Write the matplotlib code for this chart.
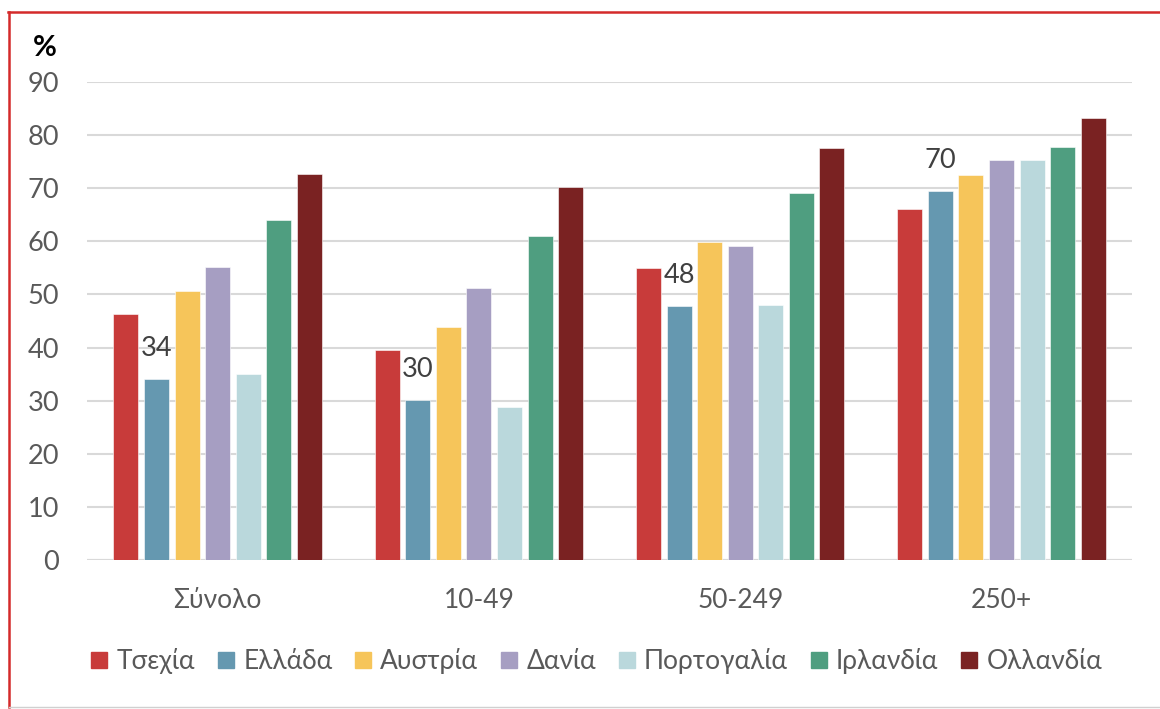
import matplotlib
matplotlib.use("Agg")
import matplotlib.pyplot as plt
import numpy as np
from matplotlib.lines import Line2D

plt.rcParams['font.family'] = ['Lato', 'Open Sans', 'DejaVu Sans']

# δεδομένα
categories = ["Σύνολο", "10-49", "50-249", "250+"]
countries = ["Τσεχία", "Ελλάδα", "Αυστρία", "Δανία", "Πορτογαλία", "Ιρλανδία", "Ολλανδία"]
czech = [46.3, 39.6, 55.0, 66.1]
greece = [34.0, 30.1, 47.9, 69.5]
austria = [50.6, 43.8, 59.8, 72.5]
denmark = [55.1, 51.2, 59.1, 75.3]
portugal = [35.0, 28.8, 48.0, 75.3]
ireland = [64.1, 61.0, 69.1, 77.7]
netherlands = [72.7, 70.3, 77.6, 83.3]
greece_labels = ["34", "30", "48", "70"]

series = [czech, greece, austria, denmark, portugal, ireland, netherlands]
colors = ["#C83B3A", "#6598B0", "#F6C55A", "#A69EC2", "#BAD8DC", "#4F9E80", "#7A2222"]

fig = plt.figure(figsize=(11.6, 7.09), dpi=100)
ax = fig.add_axes([0.075, 0.2102, 0.901, 0.6741])

x = np.arange(len(categories))
pitch = 0.117
width = 0.096
for i, (vals, c) in enumerate(zip(series, colors)):
    pos = x + (i - 3) * pitch
    ax.bar(pos, vals, width, color=c, edgecolor="white", linewidth=0.4, zorder=3)
    if i == 1:
        for p, v, lab in zip(pos, vals, greece_labels):
            ax.annotate(lab, (p, v), xytext=(0, 13), textcoords="offset points",
                        ha="center", va="bottom", fontsize=19.5, color="#404040")

ax.set_ylim(0, 90)
ax.set_xlim(-0.5, 3.5)
ax.set_yticks(range(0, 91, 10))
ax.yaxis.grid(True, color="#D9D9D9", linewidth=1.5, zorder=0)
ax.set_axisbelow(True)
for s in ax.spines.values():
    s.set_visible(False)
ax.axhline(0, color="#D9D9D9", linewidth=1.5, zorder=2)
ax.tick_params(axis="both", length=0, colors="#595959")
ax.tick_params(axis="y", pad=20, labelsize=19.5)
ax.tick_params(axis="x", pad=20, labelsize=19)
ax.set_xticks(x)
ax.set_xticklabels(categories)

fig.text(0.028, 0.932, "%", fontsize=21, fontweight="bold", color="black", ha="left", va="center")

handles = [Line2D([0], [0], marker="s", linestyle="none", markersize=12,
                  markerfacecolor=c, markeredgecolor=c) for c in colors]
fig.legend(handles, countries, loc="center", bbox_to_anchor=(0.514, 0.068), ncol=7,
           frameon=False, fontsize=19, labelcolor="#595959", handletextpad=0.3,
           columnspacing=0.82, handlelength=0.7)

# κόκκινο πλαίσιο
fig.add_artist(Line2D([8 / 1160, 1], [1 - 12 / 709, 1 - 12 / 709], color="#D42A2A", linewidth=1.8))
fig.add_artist(Line2D([9 / 1160, 9 / 1160], [1 - 12 / 709, 1 - 707 / 709], color="#D42A2A", linewidth=1.8))
fig.add_artist(Line2D([9 / 1160, 1], [1 - 707 / 709, 1 - 707 / 709], color="#D0D0D0", linewidth=1.0))

fig.savefig("out.png", dpi=100)
